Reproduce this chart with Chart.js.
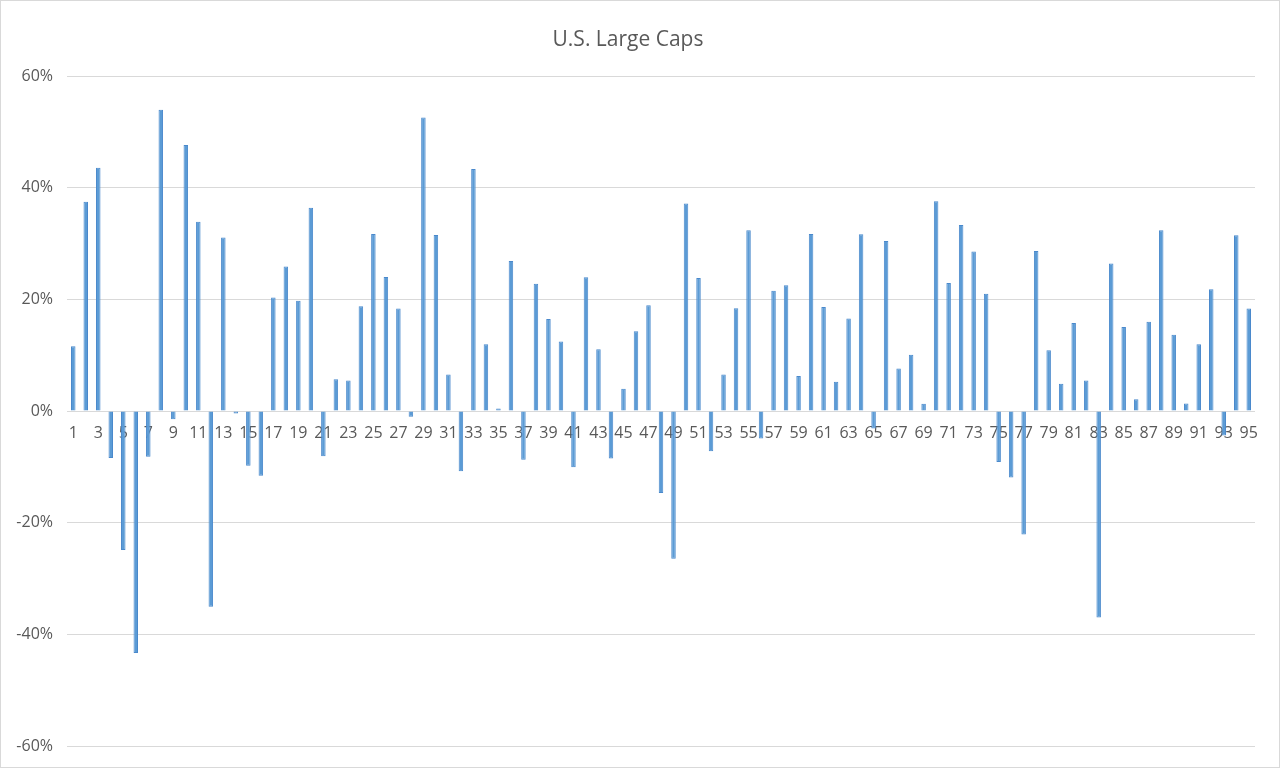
<!DOCTYPE html>
<html>
<head>
<meta charset="utf-8">
<script src="https://cdn.jsdelivr.net/npm/chart.js@4.4.1/dist/chart.umd.min.js"></script>
<style>
  html, body { margin:0; padding:0; background:#fff; }
  #wrap { width:1280px; height:768px; box-sizing:border-box; border:1px solid #d9d9d9; }
  canvas { display:block; }
</style>
</head>
<body>
<div id="wrap"><canvas id="chart" width="1278" height="766"></canvas></div>
<script>
// categories 1..95 (years 1926-2020)
const periods = Array.from({length:95}, (_, i) => String(i + 1));

// annual returns, percent
const returns = [
    11.62, 37.49, 43.61, -8.42, -24.90, -43.34, -8.19, 53.99, -1.44, 47.67,
    33.92, -35.03, 31.12, -0.41, -9.78, -11.59, 20.34, 25.90, 19.75, 36.44,
    -8.07, 5.71, 5.50, 18.79, 31.71, 24.02, 18.37, -0.99, 52.62, 31.56,
    6.56, -10.78, 43.36, 11.96, 0.47, 26.89, -8.73, 22.80, 16.48, 12.45,
    -10.06, 23.98, 11.06, -8.50, 4.01, 14.31, 18.98, -14.66, -26.47, 37.20,
    23.84, -7.18, 6.56, 18.44, 32.42, -4.91, 21.55, 22.56, 6.27, 31.73,
    18.67, 5.25, 16.61, 31.69, -3.10, 30.47, 7.62, 10.08, 1.32, 37.58,
    22.96, 33.36, 28.58, 21.04, -9.10, -11.89, -22.10, 28.68, 10.88, 4.91,
    15.79, 5.49, -37.00, 26.46, 15.06, 2.11, 16.00, 32.39, 13.69, 1.38,
    11.96, 21.83, -4.38, 31.49, 18.40
];

const yTicks = [-60, -40, -20, 0, 20, 40, 60];

const textColor = "#595959";
const gridColor = "#d9d9d9";

new Chart(document.getElementById("chart"), {
    type: "bar",
    data: {
        labels: periods,
        datasets: [{
            label: "U.S. Large Caps",
            data: returns,
            backgroundColor: "#5b9bd5",
            borderColor: "#4a89cc",
            borderWidth: 1,
            barPercentage: 0.36,
            categoryPercentage: 1
        }]
    },
    options: {
        responsive: false,
        animation: false,
        layout: {
            padding: { top: 26, right: 24, bottom: 21, left: 0 }
        },
        plugins: {
            legend: { display: false },
            tooltip: { enabled: false },
            title: {
                display: true,
                text: "U.S. Large Caps",
                color: textColor,
                font: { family: "'Open Sans', sans-serif", size: 21, weight: "normal" },
                padding: { top: 0, bottom: 24 }
            }
        },
        scales: {
            x: {
                position: { y: 0 },
                grid: { display: false, drawTicks: false },
                border: { display: false },
                ticks: {
                    autoSkip: false,
                    maxRotation: 0,
                    minRotation: 0,
                    padding: 13,
                    color: textColor,
                    font: { family: "'Open Sans', sans-serif", size: 16 },
                    callback: (v, i) => (i % 2 === 0 ? periods[i] : "")
                }
            },
            y: {
                min: yTicks[0],
                max: yTicks[yTicks.length - 1],
                afterBuildTicks: axis => {
                    axis.ticks = yTicks.map(v => ({ value: v }));
                },
                afterFit: axis => {
                    axis.width = 66;
                    axis.paddingBottom = 0;
                },
                grid: { color: gridColor, lineWidth: 1, drawTicks: false },
                border: { display: false },
                ticks: {
                    padding: 14,
                    color: textColor,
                    font: { family: "'Open Sans', sans-serif", size: 16 },
                    callback: v => v + "%"
                }
            }
        }
    }
});
</script>
</body>
</html>
